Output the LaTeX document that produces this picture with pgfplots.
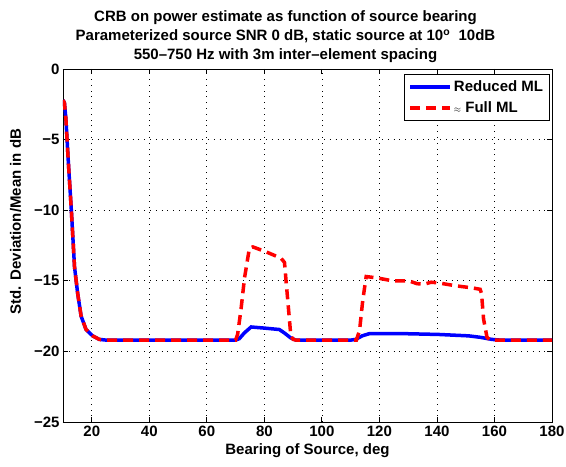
\documentclass[border=0pt]{standalone}
\usepackage{pgfplots}
\pgfplotsset{compat=1.18}
\usepackage{fontspec}
\setmainfont{Liberation Sans}
\begin{document}
\begin{tikzpicture}
\begin{axis}[
  scale only axis,
  width=489pt, height=353pt,
  xmin=10, xmax=180, ymin=-25, ymax=0,
  xtick={20,40,...,180}, ytick={-25,-20,-15,-10,-5,0},
  yticklabels={−25,−20,−15,−10,−5,0},
  grid=major,
  major grid style={black, line width=0.7pt, dash pattern=on 0.8pt off 5pt},
  tick align=inside,
  major tick length=5pt,
  axis line style={black, line width=0.9pt},
  tick style={black, line width=0.8pt},
  font=\fontsize{15}{18}\selectfont\bfseries,
  /pgf/number format/assume math mode=true,
  ticklabel style={font=\fontsize{15}{18}\selectfont\bfseries},
  title style={align=center, font=\fontsize{15}{19}\selectfont\bfseries, yshift=-3pt, xshift=-22pt},
  title={CRB on power estimate as function of source bearing\\Parameterized source SNR 0 dB, static source at 10\textsuperscript{o}\ \ 10dB\\550–750 Hz with 3m inter–element spacing},
  xlabel={Bearing of Source, deg},
  ylabel={Std. Deviation/Mean in dB},
  xlabel style={yshift=-1pt},
  ylabel style={yshift=6pt, xshift=24pt},
  legend cell align=left,
  legend style={draw=black, line width=0.8pt, font=\fontsize{15}{18}\selectfont\bfseries, inner xsep=4pt, inner ysep=4pt, row sep=5pt, at={(0.995,0.985)}, anchor=north east},
  legend image code/.code={\draw[#1] (0pt,0pt) -- (40pt,0pt);},
]
\addplot[blue, line width=3.5pt] coordinates {
(10,-2.2) (10.5,-2.4) (11,-3.5) (11.8,-6.4) (12.9,-10) (14,-14) (15.1,-15.9) (16.3,-17.5) (18,-18.45) (20.3,-18.9) (22.6,-19.15) (25,-19.2) (70,-19.2) (71.3,-19.1) (73,-18.7) (75.4,-18.27) (80,-18.35) (85.2,-18.45) (87,-18.7) (89.2,-19.05) (91,-19.2) (110,-19.2) (111.8,-19.15) (114,-18.9) (116.4,-18.75) (130,-18.75) (140.6,-18.8) (151,-18.9) (155,-19.0) (159.1,-19.15) (162,-19.2) (180,-19.2)
};
\addlegendentry{Reduced ML}
\addplot[red, line width=3.5pt, dash pattern=on 10pt off 6pt] coordinates {
(10,-2.2) (10.5,-2.4) (11,-3.5) (11.8,-6.4) (12.9,-10) (14,-14) (15.1,-15.9) (16.3,-17.5) (18,-18.45) (20.3,-18.9) (22.6,-19.15) (25,-19.2) (70,-19.2) (70.7,-18.8) (71.9,-17.0) (73.1,-14.8) (74.8,-12.7) (76,-12.6) (80.6,-12.95) (85.8,-13.4) (87,-13.7) (87.5,-14.9) (88.7,-17.7) (89.2,-18.9) (90,-19.15) (91,-19.2) (112,-19.2) (113.1,-18.5) (114.2,-16.4) (115.4,-14.7) (119.3,-14.8) (124.5,-15.0) (130.2,-15.0) (133,-15.2) (135.4,-15.25) (138,-15.1) (140.6,-15.15) (146.4,-15.35) (152.2,-15.5) (155,-15.6) (155.5,-15.9) (156.2,-17.7) (157.4,-19.0) (158.5,-19.2) (180,-19.2)
};
\addlegendentry{{\fontsize{9}{9}\selectfont$\approx$} Full ML}
\end{axis}
\pgfresetboundingbox
\path ([shift={(-63pt,-45pt)}]current axis.south west) rectangle ([shift={(14pt,69pt)}]current axis.north east);
\end{tikzpicture}
\end{document}
